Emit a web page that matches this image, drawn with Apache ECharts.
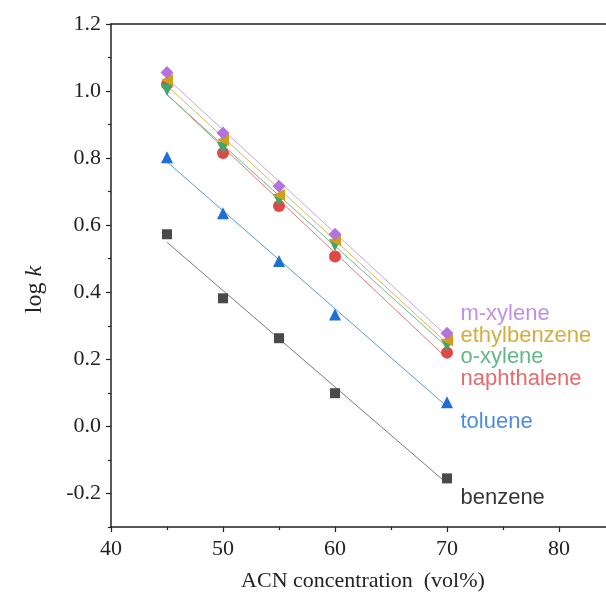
<!DOCTYPE html>
<html>
<head>
<meta charset="utf-8">
<script src="https://cdn.jsdelivr.net/npm/echarts@6/dist/echarts.min.js"></script>
<style>
  html, body { margin: 0; padding: 0; background: #fff; }
  #main { width: 606px; height: 600px; }
</style>
</head>
<body>
<div id="main"></div>
<script>
// ACN concentration (vol%)
let acn = [45, 50, 55, 60, 70]

let names = ['benzene', 'toluene', 'naphthalene', 'o-xylene', 'ethylbenzene', 'm-xylene']

// log k 读图数据
let benzene = [0.573, 0.382, 0.263, 0.099, -0.155]
let toluene = [0.803, 0.636, 0.493, 0.334, 0.072]
let naphthalene = [1.020, 0.815, 0.657, 0.507, 0.220]
let oXylene = [1.003, 0.830, 0.675, 0.540, 0.242]
let ethylbenzene = [1.033, 0.854, 0.690, 0.555, 0.257]
let mXylene = [1.055, 0.875, 0.716, 0.573, 0.278]

// 拟合直线两端 (x = 45, x = 70)
let fitX = [45, 70]
let fitStart = [0.549, 0.789, 0.990, 0.989, 1.016, 1.038]
let fitEnd = [-0.170, 0.059, 0.203, 0.237, 0.248, 0.269]

// 右侧文字标签位置
let labelX = 71.2
let labelY = [-0.212, 0.012, 0.143, 0.206, 0.269, 0.334]

let xTicks = [40, 50, 60, 70, 80]
let xMinor = [45, 55, 65, 75]
let yTicks = [-0.2, 0, 0.2, 0.4, 0.6, 0.8, 1.0, 1.2]
let yMinor = [-0.3, -0.1, 0.1, 0.3, 0.5, 0.7, 0.9, 1.1]

let allData = [benzene, toluene, naphthalene, oXylene, ethylbenzene, mXylene]
let markColors = ['#4a4a4a', '#1f6fd6', '#e04848', '#3aa86b', '#d39e18', '#b274dc']
let lineColors = ['#7a7a7a', '#5e96d2', '#e07878', '#6cba8e', '#d8b757', '#c9a3e2']
let textColors = ['#000000', '#1f6fd6', '#dd4646', '#3aa86b', '#c9980f', '#b274dc']
let symbols = ['rect', 'triangle', 'circle', 'triangle', 'triangle', 'diamond']
let rotates = [0, 0, 0, 180, 90, 0]
let sizes = [10, 12, 12, 12, 12, 13]

let serif = 'Liberation Serif'
let sans = 'Liberation Sans'
let axisColor = '#222'

let series = []
// 拟合线
for (let i = 0; i < names.length; i++) {
  series.push({
    name: names[i] + ' fit',
    type: 'line',
    data: [[fitX[0], fitStart[i]], [fitX[1], fitEnd[i]]],
    symbol: 'none',
    silent: true,
    lineStyle: { color: lineColors[i], width: 1 },
    z: 2
  })
}
// 数据点
for (let i = 0; i < names.length; i++) {
  series.push({
    name: names[i],
    type: 'scatter',
    data: acn.map((x, j) => [x, allData[i][j]]),
    symbol: symbols[i],
    symbolSize: sizes[i],
    symbolRotate: rotates[i],
    itemStyle: { color: markColors[i], opacity: 1 },
    z: 3
  })
}
// 标签
for (let i = 0; i < names.length; i++) {
  series.push({
    name: names[i] + ' label',
    type: 'scatter',
    data: [[labelX, labelY[i]]],
    symbolSize: 0,
    silent: true,
    label: {
      show: true,
      position: 'right',
      distance: 0,
      formatter: names[i],
      color: textColors[i],
      fontFamily: sans,
      fontSize: 22
    },
    z: 4
  })
}

let option = {
  backgroundColor: '#fff',
  animation: false,
  grid: { left: 111, top: 24, right: -9, bottom: 73, outerBoundsMode: 'none', containLabel: false },
  xAxis: [
    {
      type: 'value',
      min: 40,
      max: 85,
      position: 'bottom',
      name: 'ACN concentration  (vol%)',
      nameLocation: 'middle',
      nameGap: 43,
      nameTextStyle: { fontFamily: serif, fontSize: 22, color: axisColor },
      axisLine: { show: true, onZero: false, lineStyle: { color: axisColor, width: 1.5 } },
      axisTick: { show: true, length: 5, customValues: xTicks, lineStyle: { color: axisColor, width: 1.2 } },
      axisLabel: { customValues: xTicks, fontFamily: serif, fontSize: 22, color: axisColor, margin: 11 },
      splitLine: { show: false }
    },
    {
      type: 'value',
      min: 40,
      max: 85,
      position: 'bottom',
      axisLine: { show: false, onZero: false },
      axisTick: { show: true, length: 3, customValues: xMinor, lineStyle: { color: axisColor, width: 1.2 } },
      axisLabel: { show: false },
      splitLine: { show: false }
    },
    {
      type: 'value',
      min: 40,
      max: 85,
      position: 'top',
      axisLine: { show: true, onZero: false, lineStyle: { color: axisColor, width: 1.5 } },
      axisTick: { show: false },
      axisLabel: { show: false },
      splitLine: { show: false }
    }
  ],
  yAxis: [
    {
      type: 'value',
      min: -0.3,
      max: 1.2,
      position: 'left',
      name: '{a|log }{b|k}',
      nameLocation: 'middle',
      nameGap: 64,
      nameRotate: 90,
      nameTextStyle: {
        padding: [0, 28, 0, 0],
        rich: {
          a: { fontFamily: serif, fontSize: 24, color: axisColor },
          b: { fontFamily: serif, fontSize: 24, color: axisColor, fontStyle: 'italic' }
        }
      },
      axisLine: { show: true, onZero: false, lineStyle: { color: axisColor, width: 1.5 } },
      axisTick: { show: true, length: 5, customValues: yTicks, lineStyle: { color: axisColor, width: 1.2 } },
      axisLabel: {
        customValues: yTicks,
        fontFamily: serif,
        fontSize: 22,
        color: axisColor,
        margin: 10,
        formatter: function (v) { return v.toFixed(1) }
      },
      splitLine: { show: false }
    },
    {
      type: 'value',
      min: -0.3,
      max: 1.2,
      position: 'left',
      axisLine: { show: false, onZero: false },
      axisTick: { show: true, length: 3, customValues: yMinor, lineStyle: { color: axisColor, width: 1.2 } },
      axisLabel: { show: false },
      splitLine: { show: false }
    }
  ],
  series: series
}

let myChart = echarts.init(document.getElementById('main'))
myChart.setOption(option)
</script>
</body>
</html>
